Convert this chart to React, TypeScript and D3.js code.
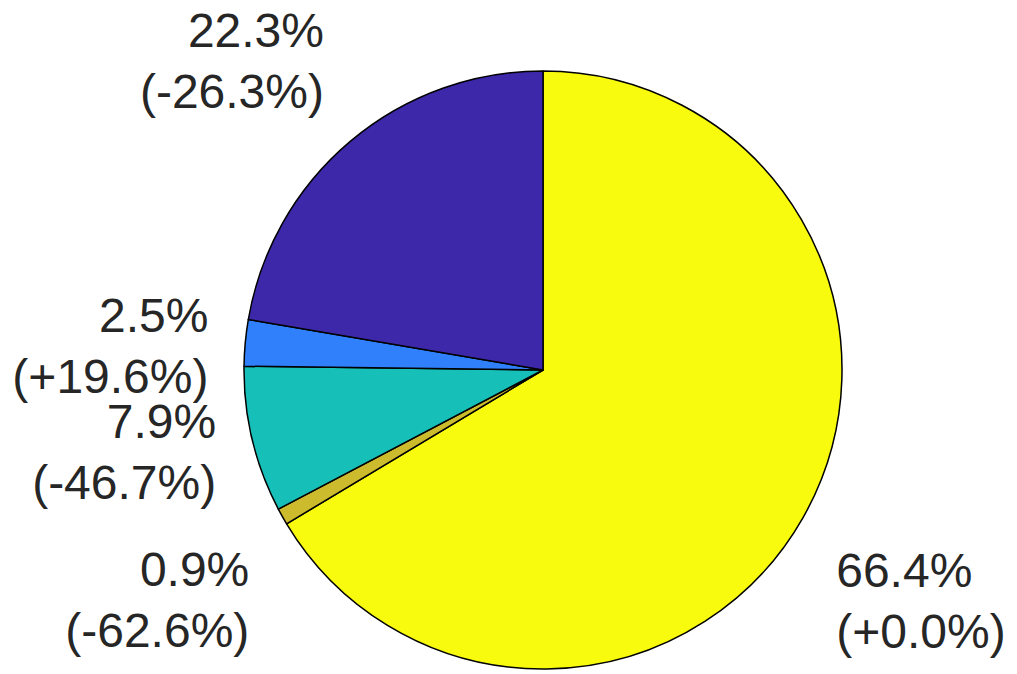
import React, { useRef, useEffect } from "react";
import * as d3 from "d3";

// slices, clockwise from 12 o'clock
const shares = [66.4, 0.9, 7.9, 2.5, 22.3];
const changes = [0.0, -62.6, -46.7, 19.6, -26.3];
const colors = ["#F9FB0E", "#CDBB2E", "#16BFB7", "#2F80FA", "#3C28A8"];

const width = 1017;
const height = 674;

// plain ascii hyphen for negatives, like the original labels
const fmtChange = (v: number) => (v < 0 ? "-" : "+") + Math.abs(v).toFixed(1);

const App = () => {
  const ref = useRef<SVGSVGElement>(null);

  useEffect(() => {
    const root = d3.select(ref.current);
    root.selectAll("*").remove();

    const cx = 543;
    const cy = 370;
    const r = 299;
    const fontSize = 48;
    const lineHeight = 61;

    const svg = root.append("g").attr("transform", `translate(${cx},${cy})`);

    const pie = d3
      .pie<number>()
      .sort(null)
      .value((d) => d)
      .startAngle(0)
      .endAngle(2 * Math.PI);

    const arcs = pie(shares);
    const arc = d3.arc<d3.PieArcDatum<number>>().innerRadius(0).outerRadius(r);
    const labelArc = d3
      .arc<d3.PieArcDatum<number>>()
      .innerRadius(r * 1.1)
      .outerRadius(r * 1.1);

    svg
      .selectAll("path")
      .data(arcs)
      .join("path")
      .attr("d", arc)
      .attr("fill", (d, i) => colors[i])
      .attr("stroke", "#000")
      .attr("stroke-width", 1.5)
      .attr("stroke-linejoin", "round");

    arcs.forEach((d, i) => {
      const [x, y] = labelArc.centroid(d);
      const mid = (d.startAngle + d.endAngle) / 2;
      const s = Math.sin(mid);
      const c = Math.cos(mid);

      // vertical: top aligned below, bottom aligned above, middle near horizontal
      const g = c > 0.4 ? 1 : c < -0.4 ? 0 : 0.5;
      const firstBaseline = y + 55 - g * 127;

      const lines = [`${shares[i].toFixed(1)}%`, `(${fmtChange(changes[i])}%)`];
      const pad = 7;

      const text = svg
        .append("text")
        .attr("font-family", "'Liberation Sans', Arial, Helvetica, sans-serif")
        .attr("font-size", fontSize)
        .attr("fill", "#262626")
        .attr("text-anchor", s < 0 ? "end" : "start");

      lines.forEach((line, k) => {
        text
          .append("tspan")
          .attr("x", s < 0 ? x - pad : x + pad)
          .attr("y", firstBaseline + k * lineHeight)
          .text(line);
      });
    });

    return () => {
      d3.select(ref.current).selectAll("*").remove();
    };
  }, []);

  return (
    <svg
      ref={ref}
      width={width}
      height={height}
      style={{ position: "absolute", left: 0, top: 0, background: "#fff" }}
    ></svg>
  );
};

export default App;
